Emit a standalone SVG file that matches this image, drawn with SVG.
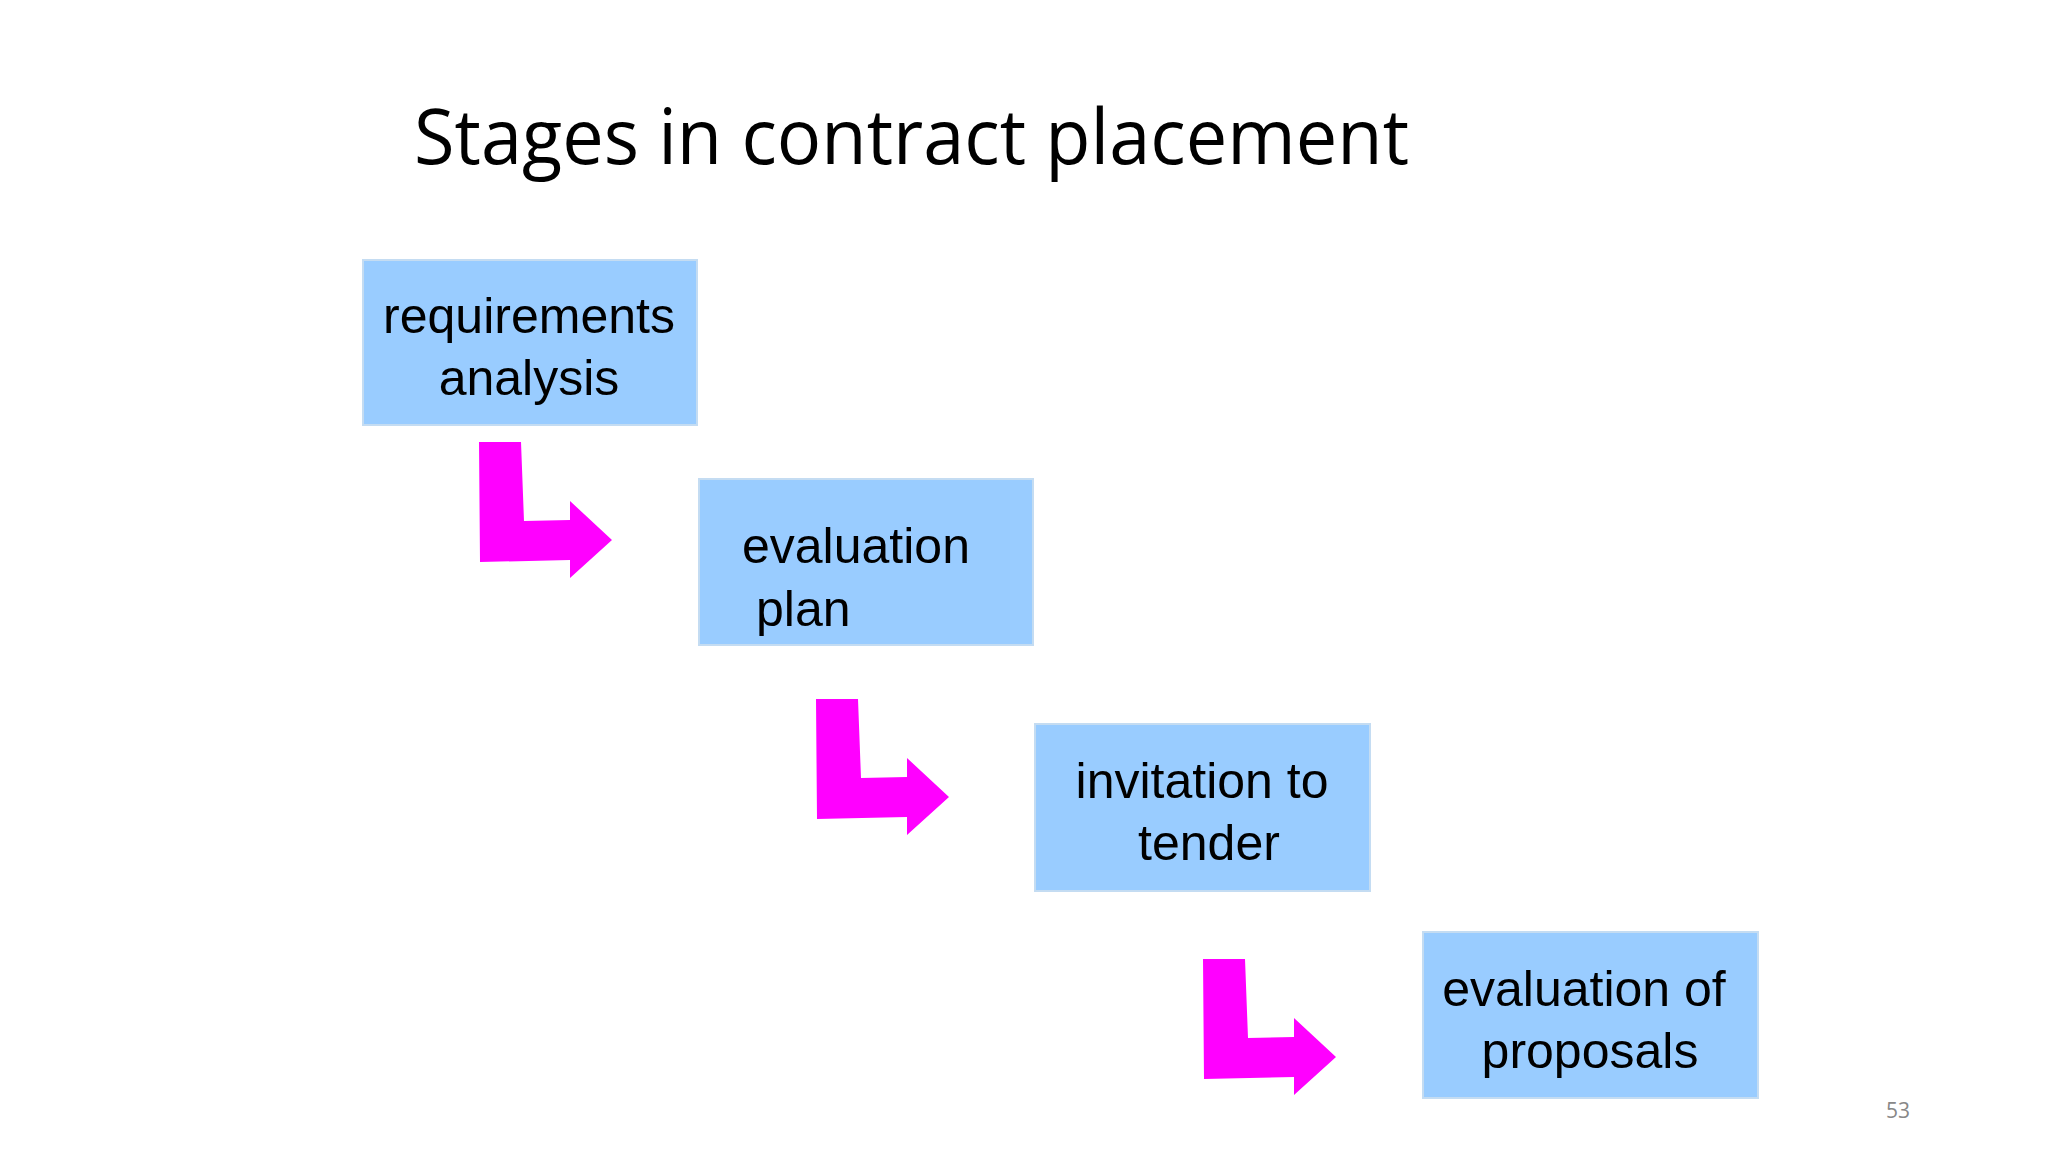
<svg xmlns="http://www.w3.org/2000/svg" width="2048" height="1152" viewBox="0 0 2048 1152">
<defs>
<style>
.box{fill:#99ccff;stroke:#c4dcf2;stroke-width:2}
.t{font-family:"Liberation Sans",Arial,sans-serif;font-size:50px;fill:#000}
.arr{fill:#ff00ff}
</style>
<polygon id="arrow" class="arr" points="479,442 521,442 524,521 570,520 570,501 612,540 570,578 570,560 480,562"/>
</defs>
<rect width="2048" height="1152" fill="#fff"/>
<text x="414" y="164" font-family="'Open Sans','Noto Sans',sans-serif" font-size="76" textLength="995" lengthAdjust="spacingAndGlyphs">Stages in contract placement</text>
<g id="connectors">
<use href="#arrow"/>
<use href="#arrow" transform="translate(337,257)"/>
<use href="#arrow" transform="translate(724,517)"/>
</g>
<g id="n1"><rect class="box" x="363" y="260" width="334" height="165"/>
<text class="t" x="529" y="333" text-anchor="middle">requirements</text>
<text class="t" x="529" y="395" text-anchor="middle">analysis</text></g>
<g id="n2"><rect class="box" x="699" y="479" width="334" height="166"/>
<text class="t" x="742" y="563">evaluation</text>
<text class="t" x="756" y="626">plan</text></g>
<g id="n3"><rect class="box" x="1035" y="724" width="335" height="167"/>
<text class="t" x="1202" y="798" text-anchor="middle">invitation to</text>
<text class="t" x="1209" y="860" text-anchor="middle">tender</text></g>
<g id="n4"><rect class="box" x="1423" y="932" width="335" height="166"/>
<text class="t" x="1584" y="1006" text-anchor="middle">evaluation of</text>
<text class="t" x="1590" y="1068" text-anchor="middle">proposals</text></g>
<text x="1898" y="1118" font-family="'Open Sans',sans-serif" font-size="21" fill="#888" text-anchor="middle">53</text>
</svg>
